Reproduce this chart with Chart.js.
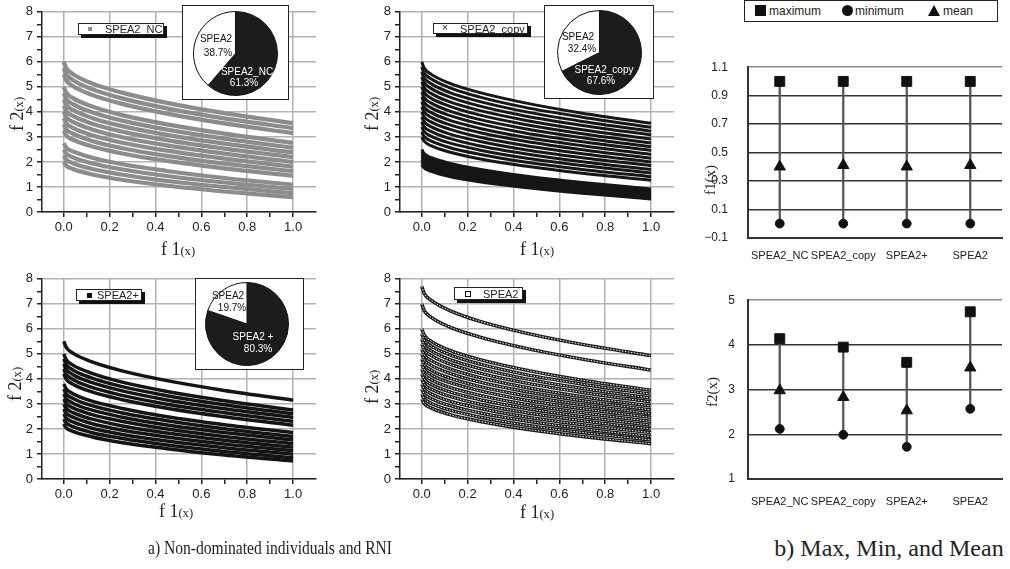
<!DOCTYPE html>
<html><head><meta charset="utf-8">
<script src="https://cdn.jsdelivr.net/npm/chart.js@4.4.0/dist/chart.umd.min.js"></script>
<style>
body{margin:0;background:#fff;}
#wrap{position:relative;width:1010px;height:569px;overflow:hidden;background:#fff;font-family:"Liberation Sans",Arial,sans-serif;color:#222;}
canvas{position:absolute;}
.ov{position:absolute;white-space:nowrap;z-index:2;}
.serif{font-family:"Liberation Serif","DejaVu Serif",serif;color:#222;}
.rot{transform:translate(-50%,-50%) rotate(-90deg);}
.ctr{transform:translate(-50%,-50%);}
.lg{background:#fff;border:1px solid #222;box-shadow:3px 3px 0 #111;box-sizing:border-box;font-size:11px;line-height:10px;}
.lg .t{position:absolute;top:0px;}
.pbox{background:#fff;border:1.5px solid #222;box-sizing:border-box;}
.pl{position:absolute;z-index:4;font-size:10px;line-height:11px;white-space:nowrap;transform:translate(-50%,-50%);}
small{font-size:70%;}
</style></head>
<body><div id="wrap">
<!-- scatter legends -->
<div class="ov lg" style="left:78px;top:23px;width:86px;height:12px;"><span style="position:absolute;left:9px;top:3px;width:4px;height:4px;background:#8c8c8c;"></span><span class="t" id="lg1" style="left:26px;"></span></div>
<div class="ov lg" style="left:433px;top:23px;width:95px;height:11px;"><span style="position:absolute;left:8px;top:-1px;font-size:10px;">×</span><span class="t" id="lg2" style="left:26px;"></span></div>
<div class="ov lg" style="left:76px;top:289px;width:66px;height:12px;"><span style="position:absolute;left:10px;top:3px;width:5px;height:5px;background:#111;"></span><span class="t" id="lg3" style="left:20px;"></span></div>
<div class="ov lg" style="left:454px;top:287px;width:69px;height:13px;"><span style="position:absolute;left:10px;top:3px;width:4px;height:4px;border:1px solid #111;"></span><span class="t" id="lg4" style="left:28px;top:1px;"></span></div>
<!-- pie boxes -->
<div class="ov pbox" style="left:182px;top:5px;width:107px;height:95px;"></div>
<div class="ov pbox" style="left:544px;top:5px;width:110px;height:94px;"></div>
<div class="ov pbox" style="left:195px;top:278px;width:109px;height:92px;"></div>
<!-- axis titles scatter -->
<div class="ov serif rot" style="left:17px;top:114px;font-size:18px;">f 2<small>(x)</small></div>
<div class="ov serif rot" style="left:372px;top:114px;font-size:18px;">f 2<small>(x)</small></div>
<div class="ov serif rot" style="left:15px;top:384px;font-size:18px;">f 2<small>(x)</small></div>
<div class="ov serif rot" style="left:372px;top:387px;font-size:18px;">f 2<small>(x)</small></div>
<div class="ov serif ctr" style="left:178px;top:249px;font-size:18px;">f 1<small>(x)</small></div>
<div class="ov serif ctr" style="left:537px;top:249px;font-size:18px;">f 1<small>(x)</small></div>
<div class="ov serif ctr" style="left:176px;top:511px;font-size:18px;">f 1<small>(x)</small></div>
<div class="ov serif ctr" style="left:537px;top:512px;font-size:18px;">f 1<small>(x)</small></div>
<!-- right titles -->
<div class="ov serif rot" style="left:710px;top:180px;font-size:15px;">f1(x)</div>
<div class="ov serif rot" style="left:712px;top:392px;font-size:15px;">f2(x)</div>
<!-- right legend -->
<div class="ov" style="left:744px;top:0px;width:254px;height:22px;border:1.5px solid #222;box-sizing:border-box;font-size:12px;">
  <span style="position:absolute;left:10px;top:4px;width:11px;height:11px;background:#111;"></span>
  <span style="position:absolute;left:24px;top:3px;" id="lgMax"></span>
  <span style="position:absolute;left:97px;top:4px;width:11px;height:11px;border-radius:50%;background:#111;"></span>
  <span style="position:absolute;left:110px;top:3px;" id="lgMin"></span>
  <span style="position:absolute;left:183px;top:4px;width:0;height:0;border-left:6px solid transparent;border-right:6px solid transparent;border-bottom:11px solid #111;"></span>
  <span style="position:absolute;left:198px;top:3px;" id="lgMean"></span>
</div>
<!-- captions -->
<div class="ov serif" style="left:270px;top:548px;font-size:19px;transform:translate(-50%,-50%) scaleX(0.82);">a) Non-dominated individuals and RNI</div>
<div class="ov serif ctr" style="left:889px;top:548px;font-size:24px;">b) Max, Min, and Mean</div>
</div>
<script>
// ---------------- DATA ----------------
const f1Grid = [0, 0.01, 0.04, 0.12, 0.25, 0.45, 0.7, 1];
const g770 = [7.70, 7.42, 7.15, 6.74, 6.31, 5.84, 5.38, 4.93];
const g700 = [7.00, 6.74, 6.47, 6.08, 5.68, 5.23, 4.79, 4.35];
const g600 = [6.00, 5.76, 5.51, 5.15, 4.78, 4.36, 3.95, 3.55];
const g580 = [5.80, 5.56, 5.32, 4.97, 4.60, 4.18, 3.79, 3.39];
const g575 = [5.75, 5.51, 5.27, 4.92, 4.55, 4.14, 3.74, 3.35];
const g560 = [5.60, 5.36, 5.13, 4.78, 4.42, 4.01, 3.62, 3.23];
const g550 = [5.50, 5.27, 5.03, 4.69, 4.33, 3.93, 3.54, 3.15];
const g540 = [5.40, 5.17, 4.94, 4.60, 4.24, 3.84, 3.46, 3.08];
const g520 = [5.20, 4.97, 4.74, 4.41, 4.06, 3.67, 3.29, 2.92];
const g500 = [5.00, 4.78, 4.55, 4.23, 3.88, 3.50, 3.13, 2.76];
const g480 = [4.80, 4.58, 4.36, 4.04, 3.70, 3.33, 2.97, 2.61];
const g475 = [4.75, 4.53, 4.31, 4.00, 3.66, 3.29, 2.93, 2.57];
const g460 = [4.60, 4.39, 4.17, 3.86, 3.53, 3.16, 2.81, 2.46];
const g450 = [4.50, 4.29, 4.08, 3.77, 3.44, 3.08, 2.73, 2.38];
const g440 = [4.40, 4.19, 3.98, 3.67, 3.35, 2.99, 2.65, 2.30];
const g425 = [4.25, 4.04, 3.84, 3.54, 3.22, 2.87, 2.53, 2.19];
const g420 = [4.20, 4.00, 3.79, 3.49, 3.18, 2.83, 2.49, 2.15];
const g400 = [4.00, 3.80, 3.60, 3.31, 3.00, 2.66, 2.33, 2.00];
const g380 = [3.80, 3.61, 3.41, 3.12, 2.83, 2.49, 2.17, 1.85];
const g375 = [3.75, 3.56, 3.36, 3.08, 2.78, 2.45, 2.13, 1.81];
const g360 = [3.60, 3.41, 3.22, 2.94, 2.65, 2.33, 2.01, 1.70];
const g350 = [3.50, 3.31, 3.13, 2.85, 2.56, 2.24, 1.93, 1.63];
const g340 = [3.40, 3.22, 3.03, 2.76, 2.48, 2.16, 1.86, 1.56];
const g325 = [3.25, 3.07, 2.89, 2.63, 2.35, 2.04, 1.74, 1.45];
const g320 = [3.20, 3.02, 2.84, 2.58, 2.31, 2.00, 1.70, 1.41];
const g300 = [3.00, 2.83, 2.65, 2.40, 2.13, 1.84, 1.55, 1.27];
const g280 = [2.80, 2.63, 2.47, 2.22, 1.96, 1.68, 1.40, 1.13];
const g275 = [2.75, 2.58, 2.42, 2.18, 1.92, 1.64, 1.36, 1.09];
const g260 = [2.60, 2.44, 2.28, 2.04, 1.79, 1.52, 1.25, 0.99];
const g250 = [2.50, 2.34, 2.18, 1.95, 1.71, 1.44, 1.18, 0.92];
const g240 = [2.40, 2.25, 2.09, 1.86, 1.63, 1.36, 1.10, 0.85];
const g230 = [2.30, 2.15, 2.00, 1.77, 1.54, 1.28, 1.03, 0.78];
const g225 = [2.25, 2.10, 1.95, 1.73, 1.50, 1.24, 1.00, 0.75];
const g220 = [2.20, 2.05, 1.90, 1.69, 1.46, 1.21, 0.96, 0.72];
const g210 = [2.10, 1.96, 1.81, 1.60, 1.38, 1.13, 0.89, 0.65];
const g200 = [2.00, 1.86, 1.72, 1.51, 1.29, 1.05, 0.82, 0.59];
const g190 = [1.90, 1.76, 1.62, 1.42, 1.21, 0.98, 0.75, 0.52];

const ncCurves = [g600, g575, g550, g500, g475, g450, g425, g400, g375, g350, g325, g275, g250, g225, g200];
const copyCurves = [g600, g580, g560, g540, g520, g500, g480, g460, g440, g420, g400, g380, g360, g340, g320, g300, g250, g240, g230, g220, g210, g200, g190];
const plusCurves = [g550, g500, g480, g460, g440, g420, g380, g360, g340, g320, g300, g280, g260, g240, g220];
const spea2Curves = [g770, g700, g600, g580, g560, g540, g520, g500, g480, g460, g440, g420, g400, g380, g360, g340, g320];

const f1Ticks = [0, 0.2, 0.4, 0.6, 0.8, 1.0];
const f2Ticks = [0, 1, 2, 3, 4, 5, 6, 7, 8];

const pieOther = ['SPEA2_NC', 'SPEA2_copy', 'SPEA2 +'];
const ncShare = [38.7, 61.3];
const copyShare = [32.4, 67.6];
const plusShare = [19.7, 80.3];

const algos = ['SPEA2_NC', 'SPEA2_copy', 'SPEA2+', 'SPEA2'];
const statNames = ['maximum', 'minimum', 'mean'];
const f1Max = [1.0, 1.0, 1.0, 1.0];
const f1Min = [0.0, 0.0, 0.0, 0.0];
const f1Mean = [0.40, 0.41, 0.40, 0.41];
const f2Max = [4.14, 3.95, 3.61, 4.74];
const f2Min = [2.12, 1.99, 1.72, 2.57];
const f2Mean = [2.98, 2.83, 2.53, 3.49];
const f1AxisTicks = [-0.1, 0.1, 0.3, 0.5, 0.7, 0.9, 1.1];
const f2AxisTicks = [1, 2, 3, 4, 5];

// ---------------- RENDER ----------------
const FAM = '"Liberation Sans", Arial, sans-serif';
Chart.defaults.font.family = FAM;
Chart.defaults.color = '#222';
const wrap = document.getElementById('wrap');

function makeCanvas(left, top, w, h, z) {
  const c = document.createElement('canvas');
  c.width = w; c.height = h;
  c.style.left = left + 'px'; c.style.top = top + 'px';
  c.style.width = w + 'px'; c.style.height = h + 'px';
  c.style.zIndex = z;
  wrap.appendChild(c);
  return c;
}
const near = (a, b) => Math.abs(a - b) < 1e-6;
const isMajorX = v => f1Ticks.some(t => near(t, v));
const isMajorY = v => f2Ticks.some(t => near(t, v));

function scatterPanel(left, top, curves, st) {
  const c = makeCanvas(left, top, 320, 260, 1);
  const datasets = [];
  curves.forEach(cv => {
    const pts = f1Grid.map((x, i) => ({ x: x, y: cv[i] }));
    datasets.push({ data: pts, showLine: true, pointRadius: 0, borderColor: st.color, borderWidth: st.width,
      cubicInterpolationMode: 'monotone', fill: false, order: 1 });
    if (st.hollow) {
      datasets.push({ data: pts, showLine: true, pointRadius: 0, borderColor: '#fff', borderWidth: 1,
        borderDash: [1.5, 1.5], cubicInterpolationMode: 'monotone', fill: false, order: 0 });
    }
  });
  const minorX = [], minorY = [];
  for (let i = 0; i <= 10; i++) minorX.push(+(i / 10).toFixed(1));
  for (let i = 0; i <= 16; i++) minorY.push(i / 2);
  new Chart(c, {
    type: 'scatter',
    data: { datasets },
    options: {
      responsive: false, animation: false, events: [],
      layout: { padding: { top: 10, right: 4, left: 0, bottom: 0 } },
      plugins: { legend: { display: false }, tooltip: { enabled: false } },
      scales: {
        x: {
          type: 'linear', min: -0.095, max: 1.1,
          afterBuildTicks: s => { s.ticks = minorX.map(v => ({ value: v })); },
          afterFit: s => { s.height = 48; },
          ticks: { autoSkip: false, maxRotation: 0, padding: 3, color: '#222', font: { size: 13 },
            callback: v => isMajorX(v) ? Number(v).toFixed(1) : '' },
          grid: { color: cx => (cx.tick && isMajorX(cx.tick.value)) ? '#b2b2b2' : 'rgba(0,0,0,0)',
            lineWidth: 1.5, tickColor: '#222', tickLength: 5 },
          border: { color: '#222', width: 1.5 }
        },
        y: {
          type: 'linear', min: 0, max: 8,
          afterBuildTicks: s => { s.ticks = minorY.map(v => ({ value: v })); },
          afterFit: s => { s.width = 42; },
          ticks: { autoSkip: false, padding: 4, color: '#222', font: { size: 13 },
            callback: v => isMajorY(v) ? String(v) : '' },
          grid: { color: cx => (cx.tick && isMajorY(cx.tick.value)) ? '#b2b2b2' : 'rgba(0,0,0,0)',
            lineWidth: 1.5, tickColor: '#222', tickLength: 5 },
          border: { color: '#222', width: 1.5 }
        }
      }
    }
  });
}

scatterPanel(0, 0, ncCurves, { color: '#8c8c8c', width: 4.2 });
scatterPanel(358, 0, copyCurves, { color: '#161616', width: 3 });
scatterPanel(0, 267, plusCurves, { color: '#141414', width: 3.5 });
scatterPanel(358, 267, spea2Curves, { color: '#1a1a1a', width: 3.5, hollow: true });

document.getElementById('lg1').textContent = 'SPEA2_NC';
document.getElementById('lg2').textContent = 'SPEA2_copy';
document.getElementById('lg3').textContent = 'SPEA2+';
document.getElementById('lg4').textContent = 'SPEA2';

function piePanel(left, top, size, share, other, lbl) {
  const c = makeCanvas(left, top, size, size, 3);
  new Chart(c, {
    type: 'pie',
    data: { labels: [other, 'SPEA2'], datasets: [{ data: [share[1], share[0]],
      backgroundColor: ['#1c1c1c', '#ffffff'], borderColor: '#111', borderWidth: 1 }] },
    options: { responsive: false, animation: false, events: [], layout: { padding: 0 },
      plugins: { legend: { display: false }, tooltip: { enabled: false } } }
  });
  const addLbl = (txt, x, y, col) => {
    const d = document.createElement('div');
    d.className = 'pl'; d.textContent = txt; d.style.left = x + 'px'; d.style.top = y + 'px'; d.style.color = col;
    wrap.appendChild(d);
  };
  addLbl('SPEA2', lbl[0][0], lbl[0][1], '#111');
  addLbl(share[0].toFixed(1) + '%', lbl[1][0], lbl[1][1], '#111');
  addLbl(other, lbl[2][0], lbl[2][1], '#fff');
  addLbl(share[1].toFixed(1) + '%', lbl[3][0], lbl[3][1], '#fff');
}
piePanel(193, 11, 85, ncShare, pieOther[0], [[216, 38], [218, 52], [247, 71], [244, 82]]);
piePanel(557, 10, 85, copyShare, pieOther[1], [[578, 36], [582, 48], [604, 69], [601, 80]]);
piePanel(205, 282, 84, plusShare, pieOther[2], [[228, 295], [232, 307], [253, 336], [258, 348]]);

document.getElementById('lgMax').textContent = statNames[0];
document.getElementById('lgMin').textContent = statNames[1];
document.getElementById('lgMean').textContent = statNames[2];

function statPanel(left, top, h, padTop, xH, yPad, lblPad, maxA, minA, meanA, yTicks, fmt) {
  const c = makeCanvas(left, top, 310, h, 1);
  const mk = (arr, style, r, name) => ({ type: 'line', label: name, data: arr, showLine: false,
    pointStyle: style, pointRadius: r, pointBackgroundColor: '#111', pointBorderColor: '#111', pointBorderWidth: 1, order: 0 });
  new Chart(c, {
    type: 'bar',
    data: { labels: algos, datasets: [
      mk(maxA, 'rect', 7, statNames[0]),
      mk(minA, 'circle', 4.4, statNames[1]),
      mk(meanA, 'triangle', 6.5, statNames[2]),
      { type: 'bar', data: algos.map((_, i) => [minA[i], maxA[i]]), backgroundColor: '#555', barThickness: 1.6, order: 5 }
    ] },
    options: {
      responsive: false, animation: false, events: [],
      layout: { padding: { top: padTop, right: 0, left: 0, bottom: 0 } },
      plugins: { legend: { display: false }, tooltip: { enabled: false } },
      scales: {
        x: { offset: true, grid: { display: false }, border: { color: '#333', width: 2 },
          afterFit: s => { s.height = xH; },
          ticks: { padding: lblPad, color: '#222', font: { size: 11 }, maxRotation: 0, autoSkip: false } },
        y: { min: yTicks[0], max: yTicks[yTicks.length - 1],
          afterBuildTicks: s => { s.ticks = yTicks.map(v => ({ value: v })); },
          afterFit: s => { s.width = 48; },
          ticks: { padding: yPad, color: '#222', font: { size: 12 }, callback: fmt },
          grid: { drawTicks: false, lineWidth: 1.5,
            color: cx => (cx.tick && near(cx.tick.value, yTicks[yTicks.length - 1])) ? '#8a8a8a' : '#333' },
          border: { color: '#333', width: 2 } }
      }
    }
  });
}
statPanel(700, 40, 225, 12, 27, 20, 4, f1Max, f1Min, f1Mean, f1AxisTicks,
  v => Number(v).toFixed(1).replace('-', '\u2212'));
statPanel(700, 280, 230, 16, 31, 13, 8, f2Max, f2Min, f2Mean, f2AxisTicks, v => String(v));
</script>
</body></html>
